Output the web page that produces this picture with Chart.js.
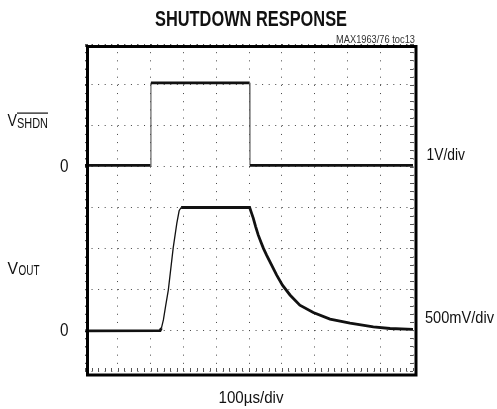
<!DOCTYPE html>
<html>
<head>
<meta charset="utf-8">
<script src="https://cdn.jsdelivr.net/npm/chart.js@4/dist/chart.umd.min.js"></script>
<style>
  html, body { margin: 0; padding: 0; background: #fff; }
  canvas { display: block; }
</style>
</head>
<body>
<canvas id="scope" width="497" height="409"></canvas>
<script>
// screen: 10 x 8 divisions, 100us/div
const timeMin = 0, timeMax = 1000, timePerDiv = 100;
const yDivs = 8;

// SHDN channel: 1V/div, zero at 5th division
const shdnZeroDiv = 5, shdnVoltsPerDiv = 1;
const shdnTime = [0, 200, 201, 502, 503, 1000];            // us
const shdnVolts = [0.03, 0.03, 2.05, 2.05, 0.03, 0.03];    // V

// VOUT channel: 500mV/div, zero at 1st division
const voutTime = [0, 229, 233, 239, 246, 254, 269, 280, 287, 293, 502,
  507, 513, 520, 528, 536, 544, 554, 564, 574, 584, 602, 625, 655, 696, 747, 808, 879, 930, 1000];
const voutVolts = [-0.01, -0.005, 0.025, 0.125, 0.3, 0.49, 1.01, 1.31, 1.46, 1.5, 1.5,
  1.44, 1.37, 1.27, 1.165, 1.08, 1.0, 0.915, 0.835, 0.755, 0.675, 0.55, 0.43, 0.305, 0.215, 0.135, 0.085, 0.04, 0.02, 0.01];
const voutZeroDiv = 1, voutVoltsPerDiv = 0.5;

const labelFont = '"Liberation Sans", Arial, sans-serif';

function toDivs(times, volts, zeroDiv, vPerDiv) {
  return times.map((t, i) => ({ x: t, y: zeroDiv + volts[i] / vPerDiv }));
}

// text + frame drawn on top of the grid
const scopeDecor = {
  id: 'scopeDecor',
  afterDraw(chart) {
    const ctx = chart.ctx;
    const a = chart.chartArea;
    const xs = chart.scales.x, ys = chart.scales.y;
    ctx.save();

    // little tick marks on the inner frame, 5 per division
    ctx.strokeStyle = '#555';
    ctx.lineWidth = 1;
    ctx.beginPath();
    for (let k = 0; k <= 50; k++) {
      const px = Math.round(xs.getPixelForValue(k * timePerDiv / 5)) + 0.5;
      ctx.moveTo(px, a.top); ctx.lineTo(px, a.top + 3);
      ctx.moveTo(px, a.bottom); ctx.lineTo(px, a.bottom - 3);
    }
    for (let k = 0; k <= yDivs * 5; k++) {
      const py = Math.round(ys.getPixelForValue(k / 5)) + 0.5;
      ctx.moveTo(a.left, py); ctx.lineTo(a.left + 3, py);
      ctx.moveTo(a.right, py); ctx.lineTo(a.right - 3, py);
    }
    ctx.stroke();

    // heavy frame, slightly offset like the original plot
    ctx.strokeStyle = '#000';
    ctx.lineWidth = 3;
    ctx.strokeRect(a.left + 2.5, a.top + 2.5, a.right - a.left + 0.5, a.bottom - a.top + 1.5);

    ctx.fillStyle = '#111';
    ctx.textBaseline = 'alphabetic';

    // title (condensed by maxWidth)
    ctx.textAlign = 'center';
    ctx.font = 'bold 22px ' + labelFont;
    ctx.fillText('SHUTDOWN RESPONSE', 251, 26, 192);

    ctx.textAlign = 'right';
    ctx.fillStyle = '#333';
    ctx.font = '10.5px ' + labelFont;
    ctx.fillText('MAX1963/76 toc13', 415, 43, 79);

    ctx.fillStyle = '#111';
    // channel labels
    ctx.textAlign = 'left';
    ctx.font = '16.5px ' + labelFont;
    ctx.fillText('V', 7.5, 126, 9.5);
    ctx.fillText('V', 7.5, 273.5, 10.5);
    ctx.font = '15px ' + labelFont;
    ctx.fillText('SHDN', 17, 128, 31);
    ctx.fillRect(17, 112.5, 31, 1.2);
    ctx.fillText('OUT', 18.5, 275, 21);

    ctx.textAlign = 'right';
    ctx.font = '18px ' + labelFont;
    ctx.fillText('0', 68.5, 171.5, 8.5);
    ctx.fillText('0', 68.5, 336, 8.5);

    ctx.textAlign = 'left';
    ctx.font = '17px ' + labelFont;
    ctx.fillText('1V/div', 426.5, 160, 38.5);
    ctx.fillText('500mV/div', 425, 323, 69);

    ctx.textAlign = 'center';
    ctx.fillText('100\u00b5s/div', 251, 403, 65);

    ctx.restore();
  }
};

new Chart(document.getElementById('scope'), {
  type: 'line',
  data: {
    datasets: [
      {
        label: 'VSHDN',
        data: toDivs(shdnTime, shdnVolts, shdnZeroDiv, shdnVoltsPerDiv),
        borderColor: '#111',
        borderWidth: 2.8,
        pointRadius: 0,
        tension: 0,
        segment: {
          borderWidth: (c) => Math.abs(c.p1.x - c.p0.x) < 1 ? 1.1 : 2.8,
          borderColor: (c) => Math.abs(c.p1.x - c.p0.x) < 1 ? '#555' : '#111',
        },
      },
      {
        label: 'VOUT',
        data: toDivs(voutTime, voutVolts, voutZeroDiv, voutVoltsPerDiv),
        borderColor: '#111',
        borderWidth: 2.8,
        pointRadius: 0,
        tension: 0,
        segment: {
          // the fast rising edge is a faint thin trace on the scope
          borderWidth: (c) => (c.p0.y - c.p1.y > 3) ? 1.3 : 2.8,
        },
      },
    ],
  },
  options: {
    responsive: false,
    animation: false,
    devicePixelRatio: 1,
    parsing: false,
    layout: { padding: { left: 85, right: 84, top: 44, bottom: 38 } },
    plugins: {
      legend: { display: false },
      tooltip: { enabled: false },
      title: { display: false },
    },
    scales: {
      x: {
        type: 'linear',
        min: timeMin,
        max: timeMax,
        ticks: { display: false, stepSize: timePerDiv },
        grid: { color: '#444', lineWidth: 1, drawTicks: false },
        border: { display: false, dash: [1, 7.175] },
        afterFit: (s) => { s.height = 0; },
      },
      y: {
        type: 'linear',
        min: 0,
        max: yDivs,
        ticks: { display: false, stepSize: 1 },
        grid: { color: '#444', lineWidth: 1, drawTicks: false },
        border: { display: false, dash: [1, 5.56] },
        afterFit: (s) => { s.width = 0; },
      },
    },
  },
  plugins: [scopeDecor],
});
</script>
</body>
</html>
